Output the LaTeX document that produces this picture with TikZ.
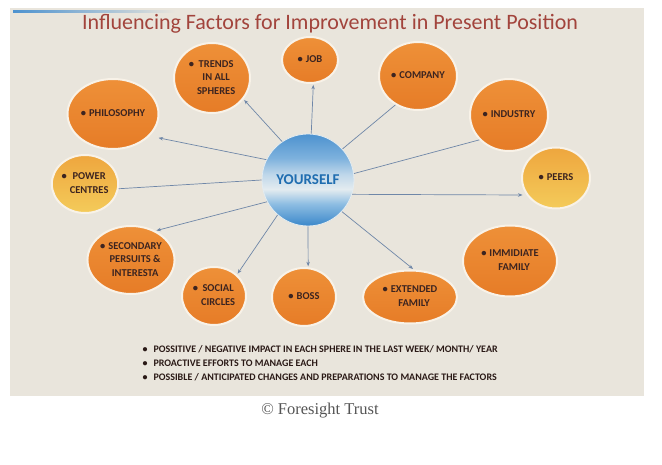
\documentclass[tikz,border=0pt]{standalone}
\usepackage{fontspec}
\setmainfont{Carlito}
\newfontfamily\capfont{Liberation Serif}
\usetikzlibrary{shapes.geometric,arrows.meta}

\definecolor{paper}{HTML}{E9E5DC}
\definecolor{titlered}{HTML}{A2443C}
\definecolor{orngtop}{HTML}{EE9038}
\definecolor{orngbot}{HTML}{E67C27}
\definecolor{ylwtop}{HTML}{EEA63E}
\definecolor{ylwbot}{HTML}{F4CB5A}
\definecolor{rim}{HTML}{F8F2E8}
\definecolor{inkbrown}{HTML}{3C2420}
\definecolor{linkblue}{HTML}{6F87A8}
\definecolor{selfink}{HTML}{1F6DB0}
\definecolor{sba}{HTML}{3A87CA}
\definecolor{sbb}{HTML}{8DBDE2}
\definecolor{sbc}{HTML}{E4ECF0}
\definecolor{sbd}{HTML}{BFD7EA}
\definecolor{sbe}{HTML}{7DB1DD}
\definecolor{sbf}{HTML}{4D92CF}
\definecolor{capgrey}{HTML}{555555}

\pgfdeclareverticalshading{selfshade}{100bp}{color(0bp)=(sba); color(25bp)=(sba);
  color(37bp)=(sbb); color(45bp)=(sbc); color(53bp)=(sbd); color(62bp)=(sbe);
  color(75bp)=(sbf); color(100bp)=(sbf)}

\newcommand{\bul}[1]{\textbullet\hspace{3pt}\begin{tabular}[t]{@{}c@{}}#1\end{tabular}}

\begin{document}
\begin{tikzpicture}[x=1pt,y=-1pt,
  factor/.style={ellipse, draw=rim, line width=2pt, top color=orngtop, bottom color=orngbot,
    inner sep=0pt, text=inkbrown, font=\bfseries\fontsize{10.5}{13.5}\selectfont},
  warm/.style={factor, top color=ylwtop, bottom color=ylwbot},
  link/.style={draw=linkblue, line width=0.7pt},
  arrlink/.style={link, -{Stealth[length=4.5pt,width=3.5pt]}, shorten >=1pt}]
\useasboundingbox (0,0) rectangle (662,465);
\fill [paper] (10,8) rectangle (644,396);
\shade [left color=sbf, right color=paper] (13,10.5) rectangle (175,12.5);
\node (title) at (330,23.5) [text=titlered, font=\fontsize{22}{26}\selectfont]
  {Influencing Factors for Improvement in Present Position};

\node (self) at (308,180) [circle, minimum size=92pt, inner sep=0pt, shade, shading=selfshade,
  draw=sbc, line width=0.8pt, text=selfink, font=\bfseries\fontsize{15}{16}\selectfont] {YOURSELF};

\node (trends) at (212,78) [factor, minimum width=76pt, minimum height=70pt] {\bul{TRENDS\\IN ALL\\SPHERES}};
\node (job) at (310,60) [factor, minimum width=56pt, minimum height=46pt] {\bul{JOB}};
\node (company) at (418,76) [factor, minimum width=78pt, minimum height=68pt] {\bul{COMPANY}};
\node (industry) at (509,115) [factor, minimum width=78pt, minimum height=72pt] {\bul{INDUSTRY}};
\node (peers) at (556,178) [warm, minimum width=68pt, minimum height=61pt] {\bul{PEERS}};
\node (philo) at (113,114) [factor, minimum width=74pt, minimum height=70pt] {\bul{PHILOSOPHY}};
\node (power) at (85,184) [warm, minimum width=60pt, minimum height=58pt] {\bul{POWER\\CENTRES}};
\node (second) at (131,260) [factor, minimum width=86pt, minimum height=68pt] {\bul{SECONDARY\\PERSUITS \&\\INTERESTA}};
\node (social) at (214,296) [factor, minimum width=64pt, minimum height=58pt] {\bul{SOCIAL\\CIRCLES}};
\node (boss) at (304,297) [factor, minimum width=64pt, minimum height=58pt] {\bul{BOSS}};
\node (extfam) at (410,297) [factor, minimum width=94pt, minimum height=53pt] {\bul{EXTENDED\\FAMILY}};
\node (immfam) at (510,261) [factor, minimum width=94pt, minimum height=71pt] {\bul{IMMIDIATE\\FAMILY}};

\draw [arrlink] (self.124) -- (trends.-34);
\draw [arrlink] (self.86) -- (job.-82);
\draw [link] (self.42) -- (company.232);
\draw [link] (self.8) -- (industry.220);
\draw [arrlink, shorten >=4pt] (self.-18) -- (peers.210);
\draw [arrlink, shorten >=9pt] (self.154) -- (philo.-31);
\draw [link] (self.180) -- (power.-8);
\draw [arrlink] (self.208) -- (second.50);
\draw [arrlink] (self.229) -- (social.43);
\draw [arrlink] (self.270) -- (boss.82);
\draw [arrlink] (self.317) -- (extfam.82);

\node (notes) at (139,342) [anchor=north west, align=left, text=inkbrown!70!black,
  font=\bfseries\fontsize{10}{14}\selectfont]
  {\textbullet\hspace{6pt}POSSITIVE / NEGATIVE IMPACT IN EACH SPHERE IN THE LAST WEEK/ MONTH/ YEAR\\
   \textbullet\hspace{6pt}PROACTIVE EFFORTS TO MANAGE EACH\\
   \textbullet\hspace{6pt}POSSIBLE / ANTICIPATED CHANGES AND PREPARATIONS TO MANAGE THE FACTORS};

\node (credit) at (320,411) [text=capgrey, font=\capfont\fontsize{16.5}{18}\selectfont] {© Foresight Trust};
\end{tikzpicture}
\end{document}
